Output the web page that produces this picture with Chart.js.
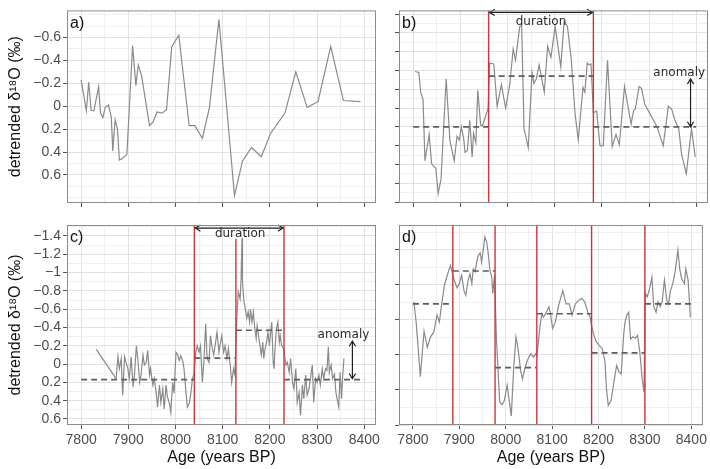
<!DOCTYPE html>
<html>
<head>
<meta charset="utf-8">
<script src="https://cdn.jsdelivr.net/npm/chart.js@4.4.1/dist/chart.umd.min.js"></script>
<style>
  html, body { margin: 0; padding: 0; background: #fff; }
  #wrap { position: relative; width: 710px; height: 469px; overflow: hidden; }
  .panel { position: absolute; left: 0; top: 0; width: 710px; height: 469px; }
</style>
</head>
<body>
<div id="wrap">
  <div class="panel"><canvas id="chartA"></canvas></div>
  <div class="panel"><canvas id="chartB"></canvas></div>
  <div class="panel"><canvas id="chartC"></canvas></div>
  <div class="panel"><canvas id="chartD"></canvas></div>
</div>
<script>
// ============================
// DATA
// ============================

// a) raw detrended record
const ageA = [7800,7811,7816,7821,7827,7837,7841,7846,7851,7858,7864,7867,7872,7877,7881,7886,7897,7909,7916,7921,7928,7945,7952,7961,7971,7981,7992,8007,8029,8041,8057,8072,8092,8125,8142,8161,8182,8201,8232,8255,8279,8302,8329,8356,8392];
const d18oA = [-0.23,0.04,-0.21,0.035,0.04,-0.17,0.06,0.10,0.01,-0.01,0.10,0.39,0.12,0.2,0.47,0.46,0.42,-0.53,-0.18,-0.36,-0.27,0.17,0.14,0.05,0.06,0.03,-0.52,-0.62,0.17,0.17,0.28,0.01,-0.76,0.78,0.48,0.36,0.44,0.24,0.06,-0.30,0.01,-0.04,-0.52,-0.05,-0.04];

// b) synthetic record with one event
const ageB = [7804,7812,7816,7821,7825,7834,7839,7844,7848,7853,7859,7870,7878,7887,7893,7898,7902,7907,7910,7915,7920,7925,7928,7933,7937,7943,7947,7959,7962,7971,7978,7987,7996,8005,8012,8017,8026,8030,8035,8044,8052,8056,8061,8067,8078,8085,8092,8101,8113,8120,8127,8135,8143,8150,8160,8164,8169,8173,8177,8182,8189,8196,8203,8212,8222,8230,8237,8248,8262,8267,8271,8279,8284,8291,8317,8330,8341,8348,8355,8363,8369,8379,8390,8398];
const d18oB = [-0.59,-0.58,-0.37,-0.29,0.36,0.08,0.39,0.42,0.44,0.71,0.56,-0.51,0.15,0.36,0.10,0.14,0.00,0.12,0.27,0.25,-0.07,0.32,0.07,0.17,-0.39,-0.02,-0.01,-0.20,-0.68,-0.67,-0.22,-0.45,-0.20,-0.46,-0.83,-0.71,-1.07,-1.08,0.02,0.22,-0.58,-0.46,-0.51,-0.66,-0.37,-0.86,-0.74,-1.07,-0.64,-1.12,-1.07,-0.73,-0.15,0.14,-0.42,-0.37,-0.68,-0.66,-0.67,-0.15,-0.17,0.20,0.20,-0.71,0.21,0.08,0.19,-0.43,-0.03,-0.17,-0.19,-0.43,-0.41,-0.24,0.00,0.20,-0.22,-0.19,-0.07,0.02,0.29,0.50,0.02,0.32];
const breaksB = [7800, 7960, 8182, 8400];
const meansB = [0, -0.54, 0];

// c) high resolution record
const ageC = [
  7832,7869,7874,7878,7881,7885,7888,7892,7895,7899,
  7902,7906,7910,7913,7917,7920,7924,7927,7931,7934,
  7938,7941,7945,7947,7952,7955,7959,7962,7966,7969,
  7973,7976,7980,7983,7987,7990,7994,7997,8001,8004,
  8008,8011,8015,8018,8022,8025,8029,8032,8036,8039,
  8043,8046,8050,8053,8057,8060,8064,8067,8071,8074,
  8078,8081,8085,8088,8092,8098,8102,8105,8109,8112,
  8116,8119,8123,8126,8130,8133,8137,8139,8141,8142,
  8145,8147,8151,8154,8157,8159,8162,8165,8168,8171,
  8173,8176,8179,8182,8185,8187,8190,8193,8196,8199,
  8201,8204,8207,8209,8211,8214,8217,8220,8222,8225,
  8229,8234,8237,8241,8244,8248,8251,8255,8258,8262,
  8265,8269,8272,8276,8279,8283,8286,8290,8293,8297,
  8300,8304,8307,8311,8314,8318,8321,8324,8326,8330,
  8333,8337,8340,8344,8346,8349,8352,8354,8357];
const d18oC = [
  -0.16,0.12,0.16,-0.08,0.05,-0.06,0.34,-0.08,-0.02,0.05,
  0.16,-0.08,0.25,0.12,-0.20,-0.06,0.20,0.12,-0.10,0.01,
  -0.02,-0.15,0.12,0.05,0.23,0.16,0.31,0.47,0.23,0.42,
  0.27,0.49,0.23,0.36,0.43,0.53,0.20,0.32,-0.13,-0.11,
  -0.04,-0.09,-0.04,0.05,0.29,0.47,0.43,0.34,0.16,0.11,
  -0.13,-0.20,-0.13,-0.20,0.20,-0.02,-0.44,-0.06,-0.02,-0.31,
  -0.17,-0.10,-0.24,-0.35,-0.13,-0.31,-0.13,-0.20,-0.06,-0.17,
  0.01,0.20,0.05,0.12,-0.50,-0.79,-0.71,-0.93,-1.38,-0.90,
  -0.68,-0.64,-0.50,-0.57,-0.46,-0.60,-0.46,-0.57,-0.39,-0.28,
  -0.42,-0.31,-0.20,-0.10,-0.24,-0.06,-0.17,-0.24,-0.35,-0.20,
  -0.31,-0.46,-0.02,0.05,-0.17,-0.39,-0.46,-0.24,-0.31,-0.20,
  -0.17,0.01,-0.02,0.09,-0.06,0.20,0.27,0.05,0.42,0.31,
  0.56,0.23,0.38,0.12,0.34,0.27,0.16,0.01,0.42,0.16,
  0.20,0.12,0.23,0.05,0.16,0.05,0.07,-0.19,0.09,0.01,
  0.16,0.11,0.31,0.42,0.47,0.09,0.38,0.16,-0.06];
const breaksC = [7800, 8040, 8128, 8230, 8400];
const meansC = [0.17, -0.065, -0.37, 0.17];
const redTopC = [-1.52, -1.37, -1.52];

// d) record split into several phases
const ageD = [
  7802,7807,7816,7824,7831,7838,7845,7852,7857,7862,
  7868,7875,7881,7886,7889,7895,7900,7905,7910,7914,
  7919,7923,7927,7930,7934,7938,7941,7945,7948,7952,
  7955,7959,7962,7966,7970,7972,7976,7980,7987,7992,
  7997,8003,8012,8017,8022,8027,8032,8036,8041,8046,
  8050,8054,8060,8064,8067,8071,8074,8078,8081,8086,
  8093,8096,8101,8107,8114,8123,8130,8137,8143,8150,
  8157,8164,8170,8177,8182,8185,8190,8195,8201,8208,
  8214,8217,8221,8227,8233,8239,8244,8249,8254,8257,
  8261,8265,8269,8274,8279,8284,8289,8294,8298,8301,
  8305,8310,8315,8319,8324,8328,8333,8337,8342,8347,
  8351,8355,8360,8365,8371,8375,8379,8385,8388,8393,
  8398];
const d18oD = [
  -0.26,0.03,0.81,0.16,0.39,0.24,0.17,-0.07,0.03,-0.23,
  -0.50,-0.66,-0.78,-0.64,-0.57,-0.46,-0.52,-0.64,-0.42,-0.35,
  -0.57,-0.66,-0.52,-0.73,-0.69,-0.85,-0.92,-0.96,-0.83,-1.02,
  -1.19,-1.11,-0.97,-0.71,-0.61,-0.38,-0.64,0.27,1.17,1.21,
  1.15,0.93,1.37,0.70,0.24,0.43,0.72,0.84,0.70,0.59,
  0.53,0.48,0.53,0.48,0.51,0.27,0.08,-0.09,-0.04,-0.09,
  -0.19,-0.11,0.12,0.03,-0.21,-0.42,-0.23,-0.23,-0.07,-0.23,
  -0.28,-0.31,-0.26,-0.11,-0.04,0.08,0.22,0.31,0.36,0.41,
  0.60,0.98,1.22,1.15,0.89,0.65,0.74,0.77,0.22,0.03,
  -0.07,-0.11,0.27,0.24,0.26,0.22,0.46,0.84,1.03,-0.38,
  -0.33,-0.45,-0.61,-0.19,-0.11,-0.26,-0.19,-0.26,-0.57,-0.28,
  -0.23,-0.42,-0.52,-0.69,-1.00,-0.73,-0.59,-0.52,-0.73,-0.57,
  -0.04];
const breaksD = [7800, 7886, 7977, 8067, 8185, 8300, 8400];
const meansD = [-0.23, -0.70, 0.68, -0.09, 0.47, -0.23];

// axes
const xRange = [7770, 8425];
const xLabels = [7800, 7900, 8000, 8100, 8200, 8300, 8400];
const xGrid = [7800, 7850, 7900, 7950, 8000, 8050, 8100, 8150, 8200, 8250, 8300, 8350, 8400];

const yRangeA = [-0.837, 0.845];
const yLabelsA = [-0.6, -0.4, -0.2, 0, 0.2, 0.4, 0.6];
const yGridA = [-0.8, -0.7, -0.6, -0.5, -0.4, -0.3, -0.2, -0.1, 0, 0.1, 0.2, 0.3, 0.4, 0.5, 0.6, 0.7, 0.8];

const yRangeB = [-1.24, 0.81];
const yMarksB = [-1.2, -1.0, -0.8, -0.6, -0.4, -0.2, 0, 0.2, 0.4, 0.6, 0.8];
const yGridB = [-1.2, -1.1, -1.0, -0.9, -0.8, -0.7, -0.6, -0.5, -0.4, -0.3, -0.2, -0.1, 0, 0.1, 0.2, 0.3, 0.4, 0.5, 0.6, 0.7, 0.8];

const yRangeC = [-1.52, 0.666];
const yLabelsC = [-1.4, -1.2, -1, -0.8, -0.6, -0.4, -0.2, 0, 0.2, 0.4, 0.6];
const yGridC = [-1.5, -1.4, -1.3, -1.2, -1.1, -1, -0.9, -0.8, -0.7, -0.6, -0.5, -0.4, -0.3, -0.2, -0.1, 0, 0.1, 0.2, 0.3, 0.4, 0.5, 0.6];

const yRangeD = [-1.357, 1.5];
const yMarksD = [-1, -0.5, 0, 0.5, 1, 1.5];
const yGridD = [-1.25, -1, -0.75, -0.5, -0.25, 0, 0.25, 0.5, 0.75, 1, 1.25, 1.5];

// ============================
// HELPERS
// ============================
const RED = "#cf3538";
const LINE_GREY = "#8a8a8a";
const DASH_GREY = "#5e5e5e";

const pts = (xs, ys) => xs.map((x, i) => ({ x, y: ys[i] }));

function stepDatasets(breaks, means) {
  return means.map((m, i) => ({
    data: [{ x: breaks[i], y: m }, { x: breaks[i + 1], y: m }],
    borderColor: DASH_GREY,
    borderWidth: 1.6,
    borderDash: [6, 4],
    order: 1,
  }));
}

function redDatasets(xs, tops, bottom) {
  return xs.map((x, i) => ({
    data: [{ x, y: tops[i] }, { x, y: bottom }],
    borderColor: RED,
    borderWidth: 1.4,
    order: 0,
  }));
}

const fmtY = (v) => (Math.abs(v) < 1e-9 ? "0" : (v < 0 ? "\u2212" : "") + String(+Math.abs(v).toFixed(1)));

function arrowHead(ctx, x, y, ang) {
  const len = 6, spread = 0.55;
  ctx.beginPath();
  ctx.moveTo(x - len * Math.cos(ang - spread), y - len * Math.sin(ang - spread));
  ctx.lineTo(x, y);
  ctx.lineTo(x - len * Math.cos(ang + spread), y - len * Math.sin(ang + spread));
  ctx.stroke();
}

// border, panel tag, arrows, notes
const panelDecor = {
  id: "panelDecor",
  afterDatasetsDraw(chart, args, opts) {
    const { ctx, chartArea: ca, scales: { x, y } } = chart;
    ctx.save();
    ctx.strokeStyle = "#1f1f1f";
    ctx.lineWidth = 1.2;
    (opts.arrows || []).forEach((a) => {
      const x1 = x.getPixelForValue(a[0]), y1 = y.getPixelForValue(a[1]);
      const x2 = x.getPixelForValue(a[2]), y2 = y.getPixelForValue(a[3]);
      ctx.beginPath();
      ctx.moveTo(x1, y1);
      ctx.lineTo(x2, y2);
      ctx.stroke();
      const ang = Math.atan2(y2 - y1, x2 - x1);
      arrowHead(ctx, x2, y2, ang);
      arrowHead(ctx, x1, y1, ang + Math.PI);
    });
    ctx.fillStyle = "#2b2b2b";
    ctx.font = '12px "DejaVu Sans"';
    ctx.textAlign = "center";
    ctx.textBaseline = "middle";
    (opts.notes || []).forEach((n) => {
      ctx.fillText(n[2], x.getPixelForValue(n[0]), y.getPixelForValue(n[1]));
    });
    ctx.fillStyle = "#111";
    ctx.font = '16px "Liberation Sans"';
    ctx.textAlign = "left";
    ctx.textBaseline = "top";
    ctx.fillText(opts.tag, ca.left + 3, ca.top + 5);
    ctx.strokeStyle = "#8c8c8c";
    ctx.lineWidth = 1;
    ctx.strokeRect(ca.left + 0.5, ca.top + 0.5, ca.width - 1, ca.height - 1);
    ctx.restore();
  },
};

function makeTicks(grid, main) {
  return (scale) => {
    scale.ticks = grid.map((v) => ({ value: v, isMain: main.includes(v) }));
  };
}

const gridColor = (c) => (c.tick && c.tick.isMain ? "#e2e2e2" : "#efefef");
const tickColor = (c) => (c.tick && c.tick.isMain ? "#555" : "rgba(0,0,0,0)");

function buildChart(id, p) {
  const datasets = [
    ...(p.red || []),
    ...(p.steps || []),
    { data: p.series, borderColor: LINE_GREY, borderWidth: 1.2, order: 2 },
  ];
  datasets.forEach((d) => { d.showLine = true; d.pointRadius = 0; d.fill = false; });

  new Chart(document.getElementById(id), {
    type: "scatter",
    data: { datasets },
    options: {
      responsive: true,
      maintainAspectRatio: false,
      devicePixelRatio: 1,
      animation: false,
      layout: { padding: p.padding },
      plugins: {
        legend: { display: false },
        tooltip: { enabled: false },
        panelDecor: { tag: p.tag, arrows: p.arrows, notes: p.notes },
      },
      scales: {
        x: {
          type: "linear",
          min: xRange[0],
          max: xRange[1],
          afterBuildTicks: makeTicks(xGrid, xLabels),
          afterFit: (s) => { s.height = p.xHeight; },
          grid: { color: gridColor, tickColor: tickColor, tickLength: 4, lineWidth: 1 },
          border: { display: false },
          ticks: {
            autoSkip: false,
            maxRotation: 0,
            padding: 3,
            color: "#4d4d4d",
            font: { size: 14 },
            callback: (v, i, ticks) => (p.xText && ticks[i].isMain ? String(v) : ""),
          },
          title: {
            display: !!p.xText,
            text: "Age (years BP)",
            color: "#111",
            font: { size: 16 },
            padding: { top: 0, bottom: 2 },
          },
        },
        y: {
          type: "linear",
          reverse: true,
          min: p.yRange[0],
          max: p.yRange[1],
          afterBuildTicks: makeTicks(p.yGrid, p.yMain),
          afterFit: (s) => { s.width = p.yWidth; },
          grid: { color: gridColor, tickColor: tickColor, tickLength: 4, lineWidth: 1 },
          border: { display: false },
          ticks: {
            autoSkip: false,
            padding: 2,
            color: "#4d4d4d",
            font: { size: 14 },
            callback: (v, i, ticks) => (p.yText && ticks[i].isMain ? fmtY(v) : ""),
          },
          title: {
            display: !!p.yText,
            text: "detrended \u03b4\u00b9\u2078O (\u2030)",
            color: "#111",
            font: { size: 16 },
            padding: { top: 6, bottom: 0 },
          },
        },
      },
    },
    plugins: [panelDecor],
  });
}

// ============================
// PANELS
// ============================
Chart.defaults.font.family = '"Liberation Sans", Arial, sans-serif';

buildChart("chartA", {
  tag: "a)",
  series: pts(ageA, d18oA),
  padding: { left: 0, top: 3, right: 334, bottom: 245 },
  yWidth: 67, xHeight: 21,
  yRange: yRangeA, yGrid: yGridA, yMain: yLabelsA, yText: true, xText: false,
});

buildChart("chartB", {
  tag: "b)",
  series: pts(ageB, d18oB),
  steps: stepDatasets(breaksB, meansB),
  red: redDatasets(breaksB.slice(1, -1), [yRangeB[0], yRangeB[0]], yRangeB[1]),
  arrows: [[7962, -1.218, 8180, -1.218], [8388, -0.51, 8388, 0]],
  notes: [[8071, -1.117, "duration"], [8364, -0.58, "anomaly"]],
  padding: { left: 378, top: 3, right: 2, bottom: 245 },
  yWidth: 21, xHeight: 21,
  yRange: yRangeB, yGrid: yGridB, yMain: yMarksB, yText: false, xText: false,
});

buildChart("chartC", {
  tag: "c)",
  series: pts(ageC, d18oC),
  steps: stepDatasets(breaksC, meansC),
  red: redDatasets(breaksC.slice(1, -1), redTopC, yRangeC[1]),
  arrows: [[8042, -1.486, 8228, -1.486], [8375, -0.25, 8375, 0.16]],
  notes: [[8137, -1.42, "duration"], [8356, -0.32, "anomaly"]],
  padding: { left: 0, top: 225, right: 334, bottom: 0 },
  yWidth: 67, xHeight: 44,
  yRange: yRangeC, yGrid: yGridC, yMain: yLabelsC, yText: true, xText: true,
});

buildChart("chartD", {
  tag: "d)",
  series: pts(ageD, d18oD),
  steps: stepDatasets(breaksD, meansD),
  red: redDatasets(breaksD.slice(1, -1), [yRangeD[0], yRangeD[0], yRangeD[0], yRangeD[0], yRangeD[0]], yRangeD[1]),
  padding: { left: 378, top: 225, right: 2, bottom: 0 },
  yWidth: 21, xHeight: 44,
  yRange: yRangeD, yGrid: yGridD, yMain: yMarksD, yText: false, xText: true,
});
</script>
</body>
</html>
